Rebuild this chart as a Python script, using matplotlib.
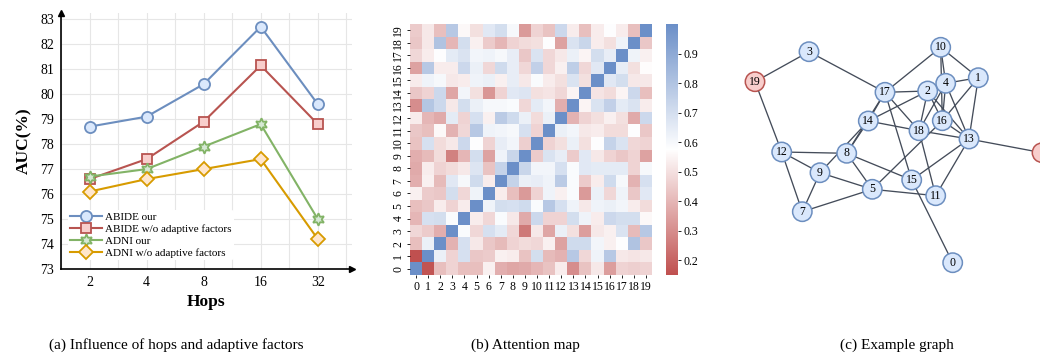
import numpy as np
import matplotlib
matplotlib.use("Agg")
import matplotlib.pyplot as plt
from matplotlib.colors import LinearSegmentedColormap
from matplotlib.patches import Circle

plt.rcParams['font.family'] = ['Liberation Serif', 'DejaVu Serif']

# ---- (a) hops vs AUC
hops = ['2', '4', '8', '16', '32']
abide_our = [78.7, 79.1, 80.4, 82.7, 79.6]
abide_wo = [76.6, 77.4, 78.9, 81.15, 78.8]
adni_our = [76.7, 77.0, 77.9, 78.8, 75.0]
adni_wo = [76.1, 76.6, 77.0, 77.4, 74.2]
series_names = ['ABIDE our', 'ABIDE w/o adaptive factors', 'ADNI our', 'ADNI w/o adaptive factors']

# ---- (b) attention map, rows 0..19
attention = [
    [1.0, 0.16, 0.42, 0.47, 0.42, 0.42, 0.54, 0.38, 0.36, 0.37, 0.40, 0.43, 0.53, 0.30, 0.43, 0.52, 0.34, 0.47, 0.46, 0.47],
    [0.15, 1.0, 0.63, 0.47, 0.69, 0.44, 0.45, 0.54, 0.53, 0.43, 0.70, 0.41, 0.39, 0.78, 0.48, 0.62, 0.78, 0.52, 0.51, 0.52],
    [0.42, 0.63, 1.0, 0.39, 0.69, 0.52, 0.44, 0.41, 0.47, 0.49, 0.48, 0.54, 0.35, 0.71, 0.71, 0.61, 0.54, 0.58, 0.80, 0.44],
    [0.48, 0.45, 0.38, 1.0, 0.59, 0.48, 0.69, 0.65, 0.48, 0.25, 0.52, 0.36, 0.63, 0.50, 0.34, 0.52, 0.54, 0.68, 0.41, 0.78],
    [0.40, 0.69, 0.70, 0.59, 1.0, 0.53, 0.48, 0.59, 0.52, 0.37, 0.72, 0.47, 0.47, 0.70, 0.62, 0.53, 0.72, 0.70, 0.70, 0.56],
    [0.42, 0.44, 0.53, 0.47, 0.53, 1.0, 0.62, 0.70, 0.69, 0.71, 0.59, 0.78, 0.69, 0.62, 0.52, 0.62, 0.63, 0.61, 0.53, 0.49],
    [0.54, 0.45, 0.44, 0.70, 0.48, 0.62, 1.0, 0.53, 0.42, 0.33, 0.47, 0.62, 0.54, 0.59, 0.33, 0.63, 0.48, 0.62, 0.44, 0.66],
    [0.38, 0.54, 0.41, 0.66, 0.60, 0.71, 0.53, 1.0, 0.74, 0.63, 0.64, 0.62, 0.77, 0.59, 0.45, 0.53, 0.71, 0.60, 0.39, 0.69],
    [0.37, 0.53, 0.47, 0.49, 0.52, 0.67, 0.43, 0.74, 1.0, 0.73, 0.61, 0.61, 0.69, 0.59, 0.66, 0.65, 0.65, 0.65, 0.47, 0.60],
    [0.38, 0.41, 0.49, 0.27, 0.40, 0.70, 0.35, 0.62, 0.73, 1.0, 0.45, 0.68, 0.64, 0.45, 0.66, 0.52, 0.47, 0.44, 0.47, 0.35],
    [0.43, 0.69, 0.49, 0.52, 0.72, 0.58, 0.47, 0.64, 0.61, 0.46, 1.0, 0.47, 0.50, 0.63, 0.50, 0.58, 0.74, 0.68, 0.48, 0.47],
    [0.44, 0.42, 0.56, 0.39, 0.48, 0.78, 0.62, 0.61, 0.60, 0.69, 0.47, 1.0, 0.63, 0.61, 0.52, 0.53, 0.49, 0.49, 0.58, 0.44],
    [0.53, 0.40, 0.37, 0.65, 0.47, 0.69, 0.54, 0.77, 0.71, 0.63, 0.49, 0.63, 1.0, 0.39, 0.47, 0.50, 0.54, 0.50, 0.37, 0.72],
    [0.30, 0.79, 0.72, 0.52, 0.70, 0.63, 0.60, 0.60, 0.59, 0.48, 0.65, 0.61, 0.38, 1.0, 0.55, 0.68, 0.75, 0.65, 0.68, 0.53],
    [0.44, 0.47, 0.72, 0.36, 0.61, 0.50, 0.32, 0.47, 0.66, 0.67, 0.50, 0.51, 0.48, 0.55, 1.0, 0.51, 0.49, 0.55, 0.72, 0.42],
    [0.53, 0.62, 0.60, 0.52, 0.53, 0.62, 0.63, 0.54, 0.64, 0.52, 0.59, 0.53, 0.50, 0.68, 0.50, 1.0, 0.66, 0.70, 0.52, 0.52],
    [0.35, 0.78, 0.53, 0.53, 0.72, 0.63, 0.48, 0.71, 0.64, 0.48, 0.75, 0.48, 0.54, 0.76, 0.48, 0.66, 1.0, 0.64, 0.50, 0.57],
    [0.48, 0.53, 0.58, 0.65, 0.68, 0.61, 0.62, 0.60, 0.64, 0.44, 0.68, 0.48, 0.52, 0.63, 0.55, 0.70, 0.64, 1.0, 0.62, 0.54],
    [0.44, 0.52, 0.80, 0.40, 0.70, 0.54, 0.45, 0.40, 0.47, 0.49, 0.50, 0.58, 0.35, 0.68, 0.73, 0.53, 0.50, 0.62, 1.0, 0.44],
    [0.45, 0.52, 0.42, 0.78, 0.56, 0.50, 0.66, 0.70, 0.60, 0.33, 0.47, 0.43, 0.72, 0.53, 0.42, 0.53, 0.58, 0.53, 0.42, 1.0],
]

# ---- (c) example graph (layout in pixel space of the panel)
node_ids = [0, 1, 2, 3, 4, 5, 6, 7, 8, 9, 10, 11, 12, 13, 14, 15, 16, 17, 18, 19]
node_x = [952.7, 978.3, 927.7, 809.0, 945.7, 872.3, 1042.0, 802.3, 846.7, 820.0,
          940.7, 935.7, 781.7, 969.0, 868.3, 911.7, 942.3, 885.0, 919.0, 755.0]
node_y = [262.7, 77.7, 91.0, 51.7, 83.3, 189.3, 152.7, 211.7, 153.3, 172.7,
          47.3, 195.7, 152.0, 139.0, 121.0, 180.0, 120.7, 92.3, 130.7, 81.7]
highlight = [6, 19]
edges = [(19, 3), (3, 17), (19, 12), (12, 8), (12, 9), (12, 7), (9, 7), (9, 5), (7, 5),
         (8, 5), (8, 15), (17, 8), (14, 8), (14, 9), (5, 16), (5, 11), (17, 15), (15, 0),
         (15, 13), (11, 13), (18, 11), (17, 10), (17, 2), (17, 18), (17, 14), (14, 2),
         (14, 18), (18, 13), (2, 18), (2, 16), (2, 13), (4, 18), (4, 16), (10, 4),
         (10, 16), (10, 1), (4, 1), (1, 16), (1, 13), (4, 13), (16, 13), (13, 6)]

fig = plt.figure(figsize=(10.4, 3.56), dpi=100)

# ================= (a)
ax = fig.add_axes([61 / 1040, 87 / 356, 291 / 1040, 256 / 356])
x = np.arange(len(hops))
styles = [
    (abide_our, '#6c8ebf', '#dae8fc', 'o', 8),
    (abide_wo, '#b85450', '#f8cecc', 's', 7),
    (adni_our, '#82b366', '#d5e8d4', (6, 1, 0), 9),
    (adni_wo, '#d79b00', '#ffe6cc', 'D', 7),
]
for (vals, c, fc, m, ms), name in zip(styles, series_names):
    ax.plot(x, vals, color=c, lw=1.5, marker=m, ms=ms, mfc=fc, mec=c, mew=1.3,
            label=name, zorder=3)
ax.set_xlim(-0.5, 4.6)
ax.set_ylim(73, 83.25)
ax.set_xticks(x)
ax.set_xticklabels(hops)
ax.set_xticks(np.arange(-0.5, 4.6, 0.5), minor=True)
ax.set_yticks(np.arange(73, 84, 1))
ax.grid(True, which='both', axis='x', color='#e6e6e6', lw=0.8)
ax.grid(True, which='major', axis='y', color='#e6e6e6', lw=0.8)
ax.tick_params(which='both', length=0, labelsize=10, pad=5)
for s in ['top', 'right']:
    ax.spines[s].set_visible(False)
for s in ['left', 'bottom']:
    ax.spines[s].set_linewidth(1.2)
ax.plot(0, 1, '^k', ms=5, transform=ax.transAxes, clip_on=False)
ax.plot(1, 0, '>k', ms=5, transform=ax.transAxes, clip_on=False)
ax.set_xlabel('Hops', fontsize=12.5, fontweight='bold', labelpad=4)
ax.set_ylabel('AUC(%)', fontsize=12.5, fontweight='bold', labelpad=6)
leg = ax.legend(loc='lower left', bbox_to_anchor=(0.025, 0.035), fontsize=8,
                frameon=True, framealpha=1, edgecolor='none', borderpad=0.2,
                labelspacing=0.2, handlelength=2.8, handletextpad=0.3, borderaxespad=0)

# ================= (b)
cmap = LinearSegmentedColormap.from_list('attn', ['#c0504f', '#ffffff', '#6b8fc8'])
hax = fig.add_axes([410 / 1040, 81 / 356, 242 / 1040, 251 / 356])
A = np.array(attention)
im = hax.imshow(A, origin='lower', cmap=cmap, aspect='auto', interpolation='nearest')
hax.set_xticks(np.arange(20))
hax.set_yticks(np.arange(20))
hax.set_xticklabels([str(i) for i in range(20)])
hax.set_yticklabels([str(i) for i in range(20)], rotation=90, va='center')
hax.tick_params(labelsize=8.5, length=2.5, width=0.6, pad=1.5)
for s in hax.spines.values():
    s.set_visible(False)
cax = fig.add_axes([666 / 1040, 81 / 356, 12 / 1040, 251 / 356])
cb = fig.colorbar(im, cax=cax)
cb.set_ticks(np.arange(0.2, 0.95, 0.1))
cb.outline.set_visible(False)
cax.tick_params(labelsize=8.5, length=2.5, width=0.6, pad=1.5)

# ================= (c)
gax = fig.add_axes([700 / 1040, 0, 340 / 1040, 1])
gax.set_xlim(700, 1040)
gax.set_ylim(356, 0)
gax.axis('off')
for a, b in edges:
    gax.plot([node_x[a], node_x[b]], [node_y[a], node_y[b]], color='#444c5a', lw=0.95, zorder=1)
for n in node_ids:
    if n in highlight:
        fc, ec = '#f8cecc', '#b85450'
    else:
        fc, ec = '#dae8fc', '#6c8ebf'
    gax.add_patch(Circle((node_x[n], node_y[n]), 9.7, facecolor=fc, edgecolor=ec, lw=1.1, zorder=2))
    gax.text(node_x[n], node_y[n], str(n), ha='center', va='center', fontsize=8.5, zorder=3)

# captions
fig.text(176 / 1040, 1 - 345 / 356, '(a) Influence of hops and adaptive factors', ha='center', va='center', fontsize=11)
fig.text(525 / 1040, 1 - 345 / 356, '(b) Attention map', ha='center', va='center', fontsize=11)
fig.text(897 / 1040, 1 - 345 / 356, '(c) Example graph', ha='center', va='center', fontsize=11)

fig.savefig('out.png', dpi=100)
